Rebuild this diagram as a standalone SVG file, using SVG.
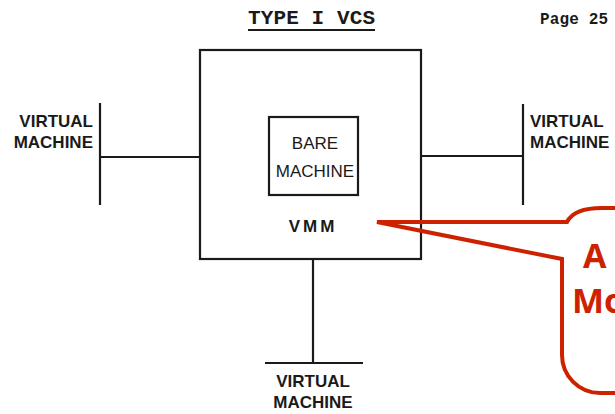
<svg xmlns="http://www.w3.org/2000/svg" width="615" height="414" viewBox="0 0 615 414">
<style>
.ln{stroke:#1a1a1a;stroke-width:2.2;fill:none}
.lbl{font-family:"Liberation Sans",Arial,sans-serif;font-size:17px;font-weight:bold;fill:#1a1a1a}
.in{font-family:"Liberation Sans",Arial,sans-serif;font-size:17px;fill:#1a1a1a}
.mono{font-family:"Liberation Mono","Courier New",monospace;font-weight:bold;fill:#1a1a1a}
.red{font-family:"Open Sans","Liberation Sans",sans-serif;font-weight:bold;font-size:34px;fill:#cc2200}
</style>
<rect width="615" height="414" fill="#fff"/>
<g id="title">
<text class="mono" x="248" y="24" font-size="21" textLength="127">TYPE I VCS</text>
<line x1="248" y1="30" x2="375" y2="30" stroke="#1a1a1a" stroke-width="2"/>
<text class="mono" x="540" y="24" font-size="16" textLength="68">Page 25</text>
</g>
<g id="connectors">
<line class="ln" x1="100" y1="157" x2="200" y2="157"/>
<line class="ln" x1="100" y1="103" x2="100" y2="205"/>
<line class="ln" x1="421" y1="156" x2="523" y2="156"/>
<line class="ln" x1="523" y1="104" x2="523" y2="205"/>
<line class="ln" x1="313" y1="259" x2="313" y2="363"/>
<line class="ln" x1="265" y1="363" x2="363" y2="363"/>
</g>
<g id="vmm">
<rect class="ln" x="200" y="50" width="221" height="209" stroke-width="2.5"/>
<text class="lbl" x="313" y="232" text-anchor="middle" font-size="16" letter-spacing="3">VMM</text>
</g>
<g id="bare-machine">
<rect class="ln" x="269" y="117" width="89" height="78"/>
<text class="in" x="315" y="149" text-anchor="middle">BARE</text>
<text class="in" x="315" y="177" text-anchor="middle">MACHINE</text>
</g>
<g id="vm-left">
<text class="lbl" x="93" y="127" text-anchor="end">VIRTUAL</text>
<text class="lbl" x="93" y="148" text-anchor="end">MACHINE</text>
</g>
<g id="vm-right">
<text class="lbl" x="530" y="127">VIRTUAL</text>
<text class="lbl" x="530" y="148">MACHINE</text>
</g>
<g id="vm-bottom">
<text class="lbl" x="313" y="387" text-anchor="middle">VIRTUAL</text>
<text class="lbl" x="313" y="408" text-anchor="middle">MACHINE</text>
</g>
<g id="callout">
<path d="M620 208 L602 208 Q574 208 567 222 L377 222 L562 259 L562 355 A38 38 0 0 0 600 393 L620 393" fill="none" stroke="#cc2200" stroke-width="4" stroke-linejoin="miter"/>
<text class="red" x="583" y="268">A</text>
<text class="red" x="572" y="313">Mo</text>
</g>
</svg>
